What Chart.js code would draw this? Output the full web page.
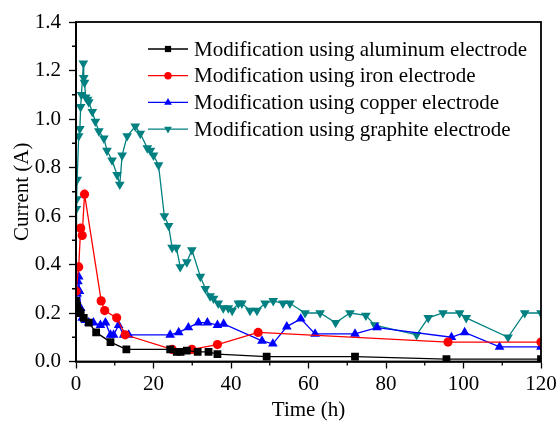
<!DOCTYPE html>
<html>
<head>
<meta charset="utf-8">
<script src="https://cdn.jsdelivr.net/npm/chart.js@4"></script>
<style>
  html, body { margin: 0; padding: 0; background: #fff; }
  #chart { display: block; }
</style>
</head>
<body>
<canvas id="chart" width="556" height="428"></canvas>
<script>
// values
var alTime = [0, 0.3, 0.7, 1.2, 2, 3.3, 5.2, 8.9, 13, 24.3, 26, 27, 28.6, 31.4, 34.2, 36.5, 49.2, 72, 95.6, 120];
var alCurrent = [0.25, 0.23, 0.21, 0.2, 0.18, 0.16, 0.12, 0.08, 0.05, 0.05, 0.04, 0.04, 0.045, 0.04, 0.04, 0.03, 0.02, 0.02, 0.01, 0.01];

var feTime = [0, 0.7, 1.2, 1.6, 2.2, 6.5, 7.4, 10.5, 12.7, 24.8, 29.9, 36.5, 47, 96, 120];
var feCurrent = [0.29, 0.39, 0.55, 0.52, 0.69, 0.25, 0.21, 0.18, 0.11, 0.05, 0.05, 0.07, 0.12, 0.08, 0.08];

var cuTime = [0, 0.3, 0.5, 0.7, 0.9, 1.2, 1.6, 2.4, 3.3, 4.5, 6.3, 7.6, 8.9, 9.7, 11, 12.3, 13.6, 24.3, 26.5, 29, 31.6, 33.9, 36.5, 38.1, 48, 50.8, 54.4, 58, 61.7, 72, 77.7, 96.9, 100.3, 109.3, 120];
var cuCurrent = [0.2, 0.28, 0.33, 0.35, 0.29, 0.22, 0.18, 0.17, 0.16, 0.16, 0.15, 0.16, 0.11, 0.11, 0.15, 0.11, 0.11, 0.11, 0.12, 0.14, 0.16, 0.16, 0.15, 0.155, 0.085, 0.073, 0.144, 0.176, 0.114, 0.114, 0.14, 0.10, 0.12, 0.06, 0.06];

var grTime = [0, 0.1, 0.2, 0.3, 0.7, 1.0, 1.2, 1.4, 1.9, 2.0, 2.2, 2.5, 3.0, 3.3, 4.2, 5, 5.9, 7.2, 8, 9.3, 10.6, 11.3, 11.9, 13.2, 15.3, 16.6, 18.4, 19.2, 20, 21.3, 22.8, 23.9, 24.8, 25.9, 26.9, 28.6, 29.9, 32.1, 33.4, 34.6, 35.5, 36.7, 38, 39.3, 40.3, 41.9, 42.8, 44.9, 46.7, 48.8, 50.9, 53.4, 55.2, 59.1, 63, 67, 70.7, 74.8, 77.1, 87.9, 90.9, 94.7, 99, 100.7, 111.5, 115.8, 120];
var grCurrent = [0.55, 0.63, 0.67, 0.75, 0.93, 0.96, 1.05, 1.10, 1.23, 1.17, 1.15, 1.09, 1.08, 1.07, 1.03, 0.99, 0.95, 0.92, 0.87, 0.83, 0.77, 0.73, 0.85, 0.93, 0.97, 0.94, 0.88, 0.87, 0.85, 0.81, 0.60, 0.56, 0.47, 0.47, 0.39, 0.41, 0.46, 0.35, 0.30, 0.27, 0.26, 0.24, 0.22, 0.22, 0.21, 0.24, 0.24, 0.21, 0.21, 0.24, 0.25, 0.24, 0.24, 0.20, 0.20, 0.16, 0.20, 0.19, 0.15, 0.11, 0.18, 0.20, 0.20, 0.18, 0.10, 0.20, 0.20];

var seriesLabels = ['Modification using aluminum electrode', 'Modification using iron electrode', 'Modification using copper electrode', 'Modification using graphite electrode'];
var xTicks = [0, 20, 40, 60, 80, 100, 120];
var yTicks = [0, 0.2, 0.4, 0.6, 0.8, 1.0, 1.2, 1.4];

var FONT = { family: "'Liberation Serif', 'Times New Roman', serif", size: 21 };

function points(xs, ys) {
	var out = [];
	for (var i = 0; i < xs.length; i++) out.push({ x: xs[i], y: ys[i] });
	return out;
}

function series(label, xs, ys, color, style, radius, rotation) {
	return {
		label: label,
		data: points(xs, ys),
		borderColor: color,
		backgroundColor: color,
		borderWidth: 1.3,
		pointStyle: style,
		pointRadius: radius,
		pointRotation: rotation || 0,
		pointBorderWidth: 0,
		pointBackgroundColor: color,
		tension: 0
	};
}

// frame, minor ticks and the in-plot legend
var extras = {
	id: 'extras',
	afterDraw: function (chart) {
		var ctx = chart.ctx, a = chart.chartArea;
		var xs = chart.scales.x, ys = chart.scales.y;
		ctx.save();
		ctx.strokeStyle = '#000';
		ctx.lineWidth = 1.8;
		ctx.strokeRect(a.left, a.top, a.right - a.left, a.bottom - a.top);

		ctx.lineWidth = 1.3;
		ctx.beginPath();
		for (var v = 10; v < 120; v += 20) {
			var px = xs.getPixelForValue(v);
			ctx.moveTo(px, a.bottom);
			ctx.lineTo(px, a.bottom + 4);
		}
		for (var k = 1; k < 14; k += 2) {
			var py = ys.getPixelForValue(k / 10);
			ctx.moveTo(a.left, py);
			ctx.lineTo(a.left - 4, py);
		}
		ctx.stroke();

		ctx.font = FONT.size + 'px ' + FONT.family;
		ctx.textBaseline = 'middle';
		ctx.textAlign = 'left';
		chart.data.datasets.forEach(function (ds, i) {
			var y = 49 + i * 26.7;
			ctx.strokeStyle = ds.borderColor;
			ctx.lineWidth = 1.3;
			ctx.beginPath();
			ctx.moveTo(148, y);
			ctx.lineTo(188, y);
			ctx.stroke();
			ctx.fillStyle = ds.borderColor;
			Chart.helpers.drawPoint(ctx, { pointStyle: ds.pointStyle, radius: ds.pointRadius * 0.8, rotation: ds.pointRotation, borderWidth: 0 }, 168, y);
			ctx.fillStyle = '#000';
			ctx.fillText(ds.label, 194, y + 1);
		});
		ctx.restore();
	}
};

var chart = new Chart(document.getElementById('chart').getContext('2d'), {
	type: 'line',
	data: {
		datasets: [
			series(seriesLabels[0], alTime, alCurrent, '#000000', 'rect', 5.5),
			series(seriesLabels[1], feTime, feCurrent, '#ff0000', 'circle', 4.6),
			series(seriesLabels[2], cuTime, cuCurrent, '#0000ff', 'triangle', 5.6),
			series(seriesLabels[3], grTime, grCurrent, '#008080', 'triangle', 5.6, 180)
		]
	},
	options: {
		responsive: false,
		animation: false,
		layout: { padding: { left: 0, right: 15, top: 22, bottom: 0 } },
		plugins: { legend: { display: false }, tooltip: { enabled: false } },
		scales: {
			x: {
				type: 'linear', min: 0, max: 120,
				afterBuildTicks: function (s) { s.ticks = xTicks.map(function (v) { return { value: v }; }); },
				afterFit: function (s) { s.height = 66.5; s.paddingLeft = 0; s.paddingRight = 0; },
				ticks: { font: FONT, color: '#000', padding: 3, maxRotation: 0, autoSkip: false },
				grid: { drawOnChartArea: false, tickLength: 7, tickColor: '#000', tickWidth: 1.3 },
				border: { color: '#000', width: 1.8 },
				title: { display: true, text: 'Time (h)', font: FONT, color: '#000', padding: { top: 0, bottom: 5 } }
			},
			y: {
				min: 0, max: 1.4,
				afterBuildTicks: function (s) { s.ticks = yTicks.map(function (v) { return { value: v }; }); },
				afterFit: function (s) { s.width = 76; s.paddingTop = 0; s.paddingBottom = 0; },
				ticks: { font: FONT, color: '#000', padding: 8, autoSkip: false, callback: function (v) { return v.toFixed(1); } },
				grid: { drawOnChartArea: false, tickLength: 7, tickColor: '#000', tickWidth: 1.3 },
				border: { color: '#000', width: 1.8 },
				title: { display: true, text: 'Current (A)', font: FONT, color: '#000', padding: { top: 10, bottom: 0 } }
			}
		}
	},
	plugins: [extras]
});
</script>
</body>
</html>
